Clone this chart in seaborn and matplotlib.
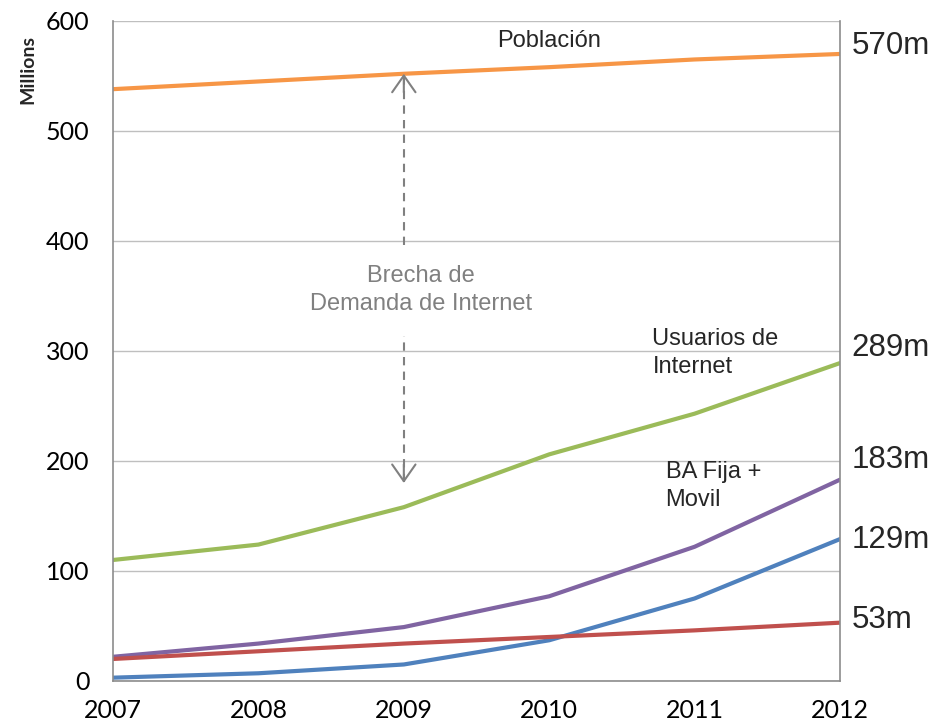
import matplotlib
matplotlib.use("Agg")
import matplotlib.pyplot as plt
import seaborn as sns
import pandas as pd

years = [2007, 2008, 2009, 2010, 2011, 2012]
poblacion = [538, 545, 552, 558, 565, 570]
usuarios = [110, 124, 158, 206, 243, 289]
ba_fija_movil = [22, 34, 49, 77, 122, 183]
ba_movil = [3, 7, 15, 37, 75, 129]
ba_fija = [20, 27, 34, 40, 46, 53]

series_names = ["Población", "Usuarios de Internet", "BA Fija + Movil", "BA Movil", "BA Fija"]
series_vals = [poblacion, usuarios, ba_fija_movil, ba_movil, ba_fija]
colors = ["#F79646", "#9BBB59", "#8064A2", "#4F81BD", "#C0504D"]
end_labels = ["570m", "289m", "183m", "129m", "53m"]

# tabla larga para seaborn
rows = []
for name, vals in zip(series_names, series_vals):
    for yr, v in zip(years, vals):
        rows.append({"year": yr, "value": v, "series": name})
df = pd.DataFrame(rows)

sns.set_style("white")
plt.rcParams['font.family'] = ['Lato', 'DejaVu Sans']
narrow = ['Liberation Sans', 'DejaVu Sans']

fig = plt.figure(figsize=(9.35, 7.28), dpi=100)
ax = fig.add_axes([0.1209, 0.0646, 0.7775, 0.9066])

sns.lineplot(data=df, x="year", y="value", hue="series",
             palette=dict(zip(series_names, colors)), hue_order=series_names,
             linewidth=3, legend=False, ax=ax)

ax.set_xlim(2007, 2012)
ax.set_ylim(0, 600)
ax.set_yticks(range(0, 601, 100))
ax.set_xticks(years)
ax.yaxis.grid(True, color="#BFBFBF", linewidth=1)
ax.set_axisbelow(True)
ax.set_xlabel("")
ax.set_ylabel("")
for side in ["left", "bottom", "right"]:
    ax.spines[side].set_visible(True)
    ax.spines[side].set_color("#8C8C8C")
    ax.spines[side].set_linewidth(1.2)
ax.spines["top"].set_visible(False)
ax.tick_params(axis="both", labelsize=18, labelcolor="black", color="#8C8C8C",
               direction="out", length=8, width=1)
ax.tick_params(axis="y", pad=9)
ax.tick_params(axis="x", pad=5)

fig.text(28 / 935, 1 - 70 / 728, "Millions", rotation=90, ha="center", va="center",
         fontsize=14, fontweight="bold")

# etiquetas de series
ax.text(2010.0, 582, "Población", ha="center", va="center", fontsize=17, family=narrow)
ax.text(2010.71, 298, "Usuarios de\nInternet", ha="left", va="center", fontsize=17,
        family=narrow, linespacing=1.35)
ax.text(2010.80, 177, "BA Fija +\nMovil", ha="left", va="center", fontsize=17,
        family=narrow, linespacing=1.35)

end_y = [577, 303, 201, 128, 55]
for lab, yv in zip(end_labels, end_y):
    ax.text(2012.08, yv, lab, ha="left", va="center", fontsize=22.5, family=narrow,
            clip_on=False)

# brecha de demanda: linea discontinua + puntas de flecha abiertas
gray = "#808080"
ax.vlines(2009, 396, 551, colors=gray, linestyles=(0, (4, 3)), linewidth=1.5)
ax.vlines(2009, 181, 314, colors=gray, linestyles=(0, (4, 3)), linewidth=1.5)
head = dict(arrowstyle="->, head_length=0.5, head_width=0.35", color=gray,
            linewidth=1.5, mutation_scale=24, shrinkA=0, shrinkB=0)
ax.annotate("", xy=(2009, 552), xytext=(2009, 535), arrowprops=head)
ax.annotate("", xy=(2009, 180), xytext=(2009, 197), arrowprops=head)
ax.text(2009.12, 355, "Brecha de\nDemanda de Internet", ha="center", va="center",
        fontsize=17, color=gray, family=narrow, linespacing=1.35)

fig.savefig("out.png", dpi=100)
